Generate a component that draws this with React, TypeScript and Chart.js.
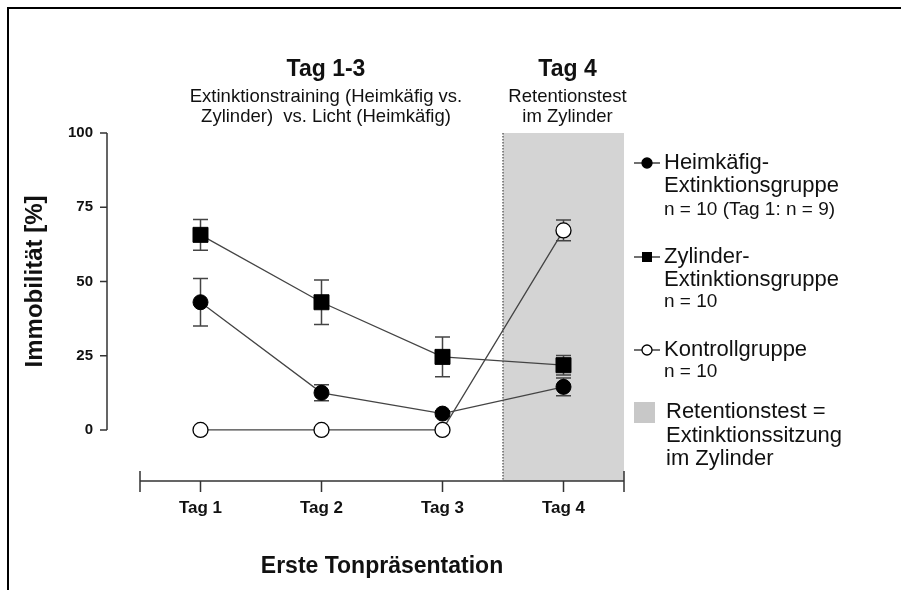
import React, { useEffect, useRef } from "react";
import { Chart, registerables } from "chart.js";

Chart.register(...registerables);

const categories = ["Tag 1", "Tag 2", "Tag 3", "Tag 4"];
const dayPositions = [1, 2, 3, 4];
const heimkaefigMean = [43, 12.5, 5.5, 14.5];
const heimkaefigSem = [8, 2.7, 1, 3];
const zylinderMean = [65.7, 43, 24.6, 21.8];
const zylinderSem = [5.2, 7.5, 6.7, 3.3];
const kontrollMean = [0, 0, 0, 67.2];
const kontrollSem = [0, 0, 0, 3.5];
const yTickValues = [0, 25, 50, 75, 100];
const retentionRange = [3.5, 4.5];

const FONT = "'Liberation Sans', Arial, Helvetica, sans-serif";
const LINE = "#444444";

const errorsByDataset = [heimkaefigSem, zylinderSem, kontrollSem];

const toPoints = (vals: number[]) => vals.map((v, i) => ({ x: dayPositions[i], y: v }));

const decorPlugin = {
  id: "decor",
  beforeDraw(chart: any) {
    const ctx = chart.ctx;
    const xs = chart.scales.x;
    const ys = chart.scales.y;
    ctx.save();
    ctx.fillStyle = "#ffffff";
    ctx.fillRect(0, 0, chart.width, chart.height);
    // frame
    ctx.strokeStyle = "#000";
    ctx.lineWidth = 2;
    ctx.beginPath();
    ctx.moveTo(8, 590);
    ctx.lineTo(8, 8);
    ctx.lineTo(901, 8);
    ctx.stroke();
    // shaded retention area
    const x0 = xs.getPixelForValue(retentionRange[0]);
    const x1 = xs.getPixelForValue(retentionRange[1]);
    const yTop = ys.getPixelForValue(100);
    const yBot = chart.chartArea.bottom;
    ctx.fillStyle = "#d4d4d4";
    ctx.fillRect(x0, yTop, x1 - x0, yBot - yTop);
    ctx.strokeStyle = "#666";
    ctx.lineWidth = 1.5;
    ctx.setLineDash([1.5, 1.5]);
    ctx.beginPath();
    ctx.moveTo(x0, yTop);
    ctx.lineTo(x0, yBot);
    ctx.stroke();
    ctx.setLineDash([]);
    ctx.restore();
  },
  beforeDatasetsDraw(chart: any) {
    const ctx = chart.ctx;
    const xs = chart.scales.x;
    const ys = chart.scales.y;
    ctx.save();
    ctx.strokeStyle = LINE;
    ctx.lineWidth = 1.5;
    chart.data.datasets.forEach((ds: any, di: number) => {
      const errs = errorsByDataset[di];
      ds.data.forEach((p: any, i: number) => {
        const e = errs[i];
        if (!e) return;
        const px = xs.getPixelForValue(p.x);
        const yHi = ys.getPixelForValue(p.y + e);
        const yLo = ys.getPixelForValue(p.y - e);
        ctx.beginPath();
        ctx.moveTo(px, yHi);
        ctx.lineTo(px, yLo);
        ctx.moveTo(px - 7.5, yHi);
        ctx.lineTo(px + 7.5, yHi);
        ctx.moveTo(px - 7.5, yLo);
        ctx.lineTo(px + 7.5, yLo);
        ctx.stroke();
      });
    });
    ctx.restore();
  },
  afterDraw(chart: any) {
    const ctx = chart.ctx;
    const xs = chart.scales.x;
    const ys = chart.scales.y;
    const area = chart.chartArea;
    ctx.save();
    // y axis line and ticks
    const axX = area.left - 33;
    ctx.strokeStyle = "#333";
    ctx.lineWidth = 1.5;
    ctx.beginPath();
    ctx.moveTo(axX, ys.getPixelForValue(0));
    ctx.lineTo(axX, ys.getPixelForValue(100));
    yTickValues.forEach((v) => {
      const py = ys.getPixelForValue(v);
      ctx.moveTo(axX - 7, py);
      ctx.lineTo(axX, py);
    });
    ctx.stroke();
    // x axis line and ticks
    const axY = area.bottom;
    ctx.beginPath();
    ctx.moveTo(xs.getPixelForValue(xs.min), axY);
    ctx.lineTo(xs.getPixelForValue(xs.max), axY);
    [xs.min, xs.max].forEach((v) => {
      const px = xs.getPixelForValue(v);
      ctx.moveTo(px, axY - 10);
      ctx.lineTo(px, axY + 11);
    });
    dayPositions.forEach((v) => {
      const px = xs.getPixelForValue(v);
      ctx.moveTo(px, axY);
      ctx.lineTo(px, axY + 11);
    });
    ctx.stroke();

    // axis titles
    ctx.fillStyle = "#111";
    ctx.textAlign = "center";
    ctx.textBaseline = "middle";
    ctx.font = `bold 23px ${FONT}`;
    ctx.fillText("Erste Tonpräsentation", (area.left + area.right) / 2, 567);
    ctx.save();
    ctx.translate(35, (ys.getPixelForValue(0) + ys.getPixelForValue(100)) / 2);
    ctx.rotate(-Math.PI / 2);
    ctx.font = `bold 24px ${FONT}`;
    ctx.fillText("Immobilität [%]", 0, 0);
    ctx.restore();

    // top annotations
    const cA = 326;
    const cB = xs.getPixelForValue(4) + 4;
    ctx.font = `bold 23px ${FONT}`;
    ctx.fillText("Tag 1-3", cA, 70);
    ctx.fillText("Tag 4", cB, 70);
    ctx.font = `18.5px ${FONT}`;
    ctx.fillText("Extinktionstraining (Heimkäfig vs.", cA, 97);
    ctx.fillText("Zylinder)  vs. Licht (Heimkäfig)", cA, 117);
    ctx.fillText("Retentionstest", cB, 97);
    ctx.fillText("im Zylinder", cB, 117);

    // legend
    const lx0 = 634, lx1 = 660, lcx = 647, tx = 664;
    ctx.textAlign = "left";
    const legendMarker = (y: number, kind: string) => {
      ctx.strokeStyle = "#222";
      ctx.lineWidth = 1.3;
      ctx.beginPath();
      ctx.moveTo(lx0, y);
      ctx.lineTo(lx1, y);
      ctx.stroke();
      ctx.beginPath();
      if (kind === "rect") {
        ctx.fillStyle = "#000";
        ctx.fillRect(lcx - 5, y - 5, 10, 10);
      } else {
        ctx.arc(lcx, y, 5, 0, Math.PI * 2);
        ctx.fillStyle = kind === "open" ? "#fff" : "#000";
        ctx.fill();
        ctx.strokeStyle = "#000";
        ctx.stroke();
      }
    };
    const big = `22px ${FONT}`;
    const small = `19px ${FONT}`;
    legendMarker(163, "circle");
    ctx.fillStyle = "#111";
    ctx.font = big;
    ctx.fillText("Heimkäfig-", tx, 163);
    ctx.fillText("Extinktionsgruppe", tx, 186);
    ctx.font = small;
    ctx.fillText("n = 10 (Tag 1: n = 9)", tx, 210);

    legendMarker(257, "rect");
    ctx.fillStyle = "#111";
    ctx.font = big;
    ctx.fillText("Zylinder-", tx, 257);
    ctx.fillText("Extinktionsgruppe", tx, 280);
    ctx.font = small;
    ctx.fillText("n = 10", tx, 302);

    legendMarker(350, "open");
    ctx.fillStyle = "#111";
    ctx.font = big;
    ctx.fillText("Kontrollgruppe", tx, 350);
    ctx.font = small;
    ctx.fillText("n = 10", tx, 372);

    ctx.fillStyle = "#c8c8c8";
    ctx.fillRect(634, 402, 21, 21);
    ctx.fillStyle = "#111";
    ctx.font = big;
    ctx.fillText("Retentionstest =", tx + 2, 412);
    ctx.fillText("Extinktionssitzung", tx + 2, 436);
    ctx.fillText("im Zylinder", tx + 2, 459);

    ctx.restore();
  },
};

export default function App() {
  const ref = useRef<HTMLCanvasElement | null>(null);
  useEffect(() => {
    if (!ref.current) return;
    const chart = new Chart(ref.current, {
      type: "line",
      data: {
        datasets: [
          {
            label: "Heimkäfig-Extinktionsgruppe",
            data: toPoints(heimkaefigMean),
            borderColor: LINE,
            borderWidth: 1.3,
            pointStyle: "circle",
            pointRadius: 7.5,
            pointBackgroundColor: "#000",
            pointBorderColor: "#000",
            pointBorderWidth: 1,
          },
          {
            label: "Zylinder-Extinktionsgruppe",
            data: toPoints(zylinderMean),
            borderColor: LINE,
            borderWidth: 1.3,
            pointStyle: "rect",
            pointRadius: 10.6,
            pointBackgroundColor: "#000",
            pointBorderColor: "#000",
            pointBorderWidth: 1,
          },
          {
            label: "Kontrollgruppe",
            data: toPoints(kontrollMean),
            borderColor: LINE,
            borderWidth: 1.3,
            pointStyle: "circle",
            pointRadius: 7.5,
            pointBackgroundColor: "#fff",
            pointBorderColor: "#000",
            pointBorderWidth: 1.3,
          },
        ],
      },
      options: {
        responsive: false,
        animation: false,
        events: [],
        layout: { padding: { top: 133, right: 277, left: 0, bottom: 0 } },
        plugins: { legend: { display: false }, tooltip: { enabled: false }, title: { display: false } },
        scales: {
          x: {
            type: "linear",
            min: 0.5,
            max: 4.5,
            grid: { display: false, drawTicks: false },
            border: { display: false },
            afterBuildTicks: (s: any) => {
              s.ticks = dayPositions.map((v) => ({ value: v }));
            },
            afterFit: (s: any) => {
              s.height = 109;
            },
            ticks: {
              autoSkip: false,
              maxRotation: 0,
              padding: 17,
              color: "#111",
              font: { family: FONT, size: 17, weight: "bold" },
              callback: (v: any) => categories[dayPositions.indexOf(Number(v))] ?? "",
            },
          },
          y: {
            type: "linear",
            min: -17.2,
            max: 100,
            grid: { display: false, drawTicks: false },
            border: { display: false },
            afterBuildTicks: (s: any) => {
              s.ticks = yTickValues.map((v) => ({ value: v }));
            },
            afterFit: (s: any) => {
              s.width = 140;
            },
            ticks: {
              padding: 47,
              color: "#111",
              font: { family: FONT, size: 15, weight: "bold" },
              callback: (v: any) => String(v),
            },
          },
        },
      },
      plugins: [decorPlugin],
    } as any);
    return () => chart.destroy();
  }, []);
  return (
    <div style={{ position: "absolute", left: 0, top: 0, width: 901, height: 590 }}>
      <canvas ref={ref} width={901} height={590} style={{ width: 901, height: 590 }} />
    </div>
  );
}
